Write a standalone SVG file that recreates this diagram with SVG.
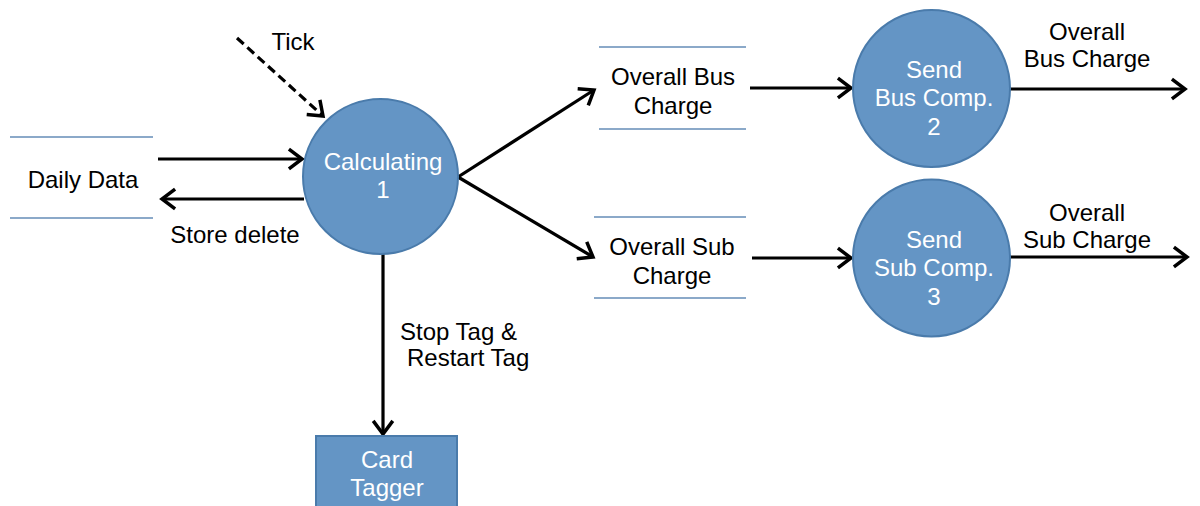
<svg xmlns="http://www.w3.org/2000/svg" width="1200" height="506" viewBox="0 0 1200 506">
<style>
.bg{fill:#ffffff}
.proc{fill:#6495c5;stroke:#4a7bab;stroke-width:2}
.store{stroke:#8ba9c9;stroke-width:2}
.conn{stroke:#000;stroke-width:3.2;fill:none}
.dash{stroke-dasharray:9 5}
text{font-family:"Liberation Sans",Arial,sans-serif;font-size:24px}
.w{fill:#ffffff;text-anchor:middle}
.k{fill:#000000}
.c{text-anchor:middle}
</style>
<defs>
<marker id="arr" markerUnits="userSpaceOnUse" markerWidth="20" markerHeight="24" viewBox="-14 -11 16 22" refX="0" refY="0" orient="auto">
<path d="M-12,-9 L0,0 L-12,9" fill="none" stroke="#000" stroke-width="3.2"/>
</marker>
</defs>
<rect class="bg" x="0" y="0" width="1200" height="506"/>
<g id="connectors">
<line class="conn dash" x1="237" y1="38" x2="323" y2="116" marker-end="url(#arr)"/>
<line class="conn" x1="158" y1="159" x2="302" y2="159" marker-end="url(#arr)"/>
<line class="conn" x1="304" y1="199" x2="162" y2="199" marker-end="url(#arr)"/>
<line class="conn" x1="458" y1="177" x2="594" y2="90" marker-end="url(#arr)"/>
<line class="conn" x1="458" y1="177" x2="593" y2="257" marker-end="url(#arr)"/>
<line class="conn" x1="750" y1="88" x2="851" y2="88" marker-end="url(#arr)"/>
<line class="conn" x1="752" y1="258" x2="851" y2="258" marker-end="url(#arr)"/>
<line class="conn" x1="1010" y1="89" x2="1185" y2="89" marker-end="url(#arr)"/>
<line class="conn" x1="1010" y1="257" x2="1187" y2="257" marker-end="url(#arr)"/>
<line class="conn" x1="383" y1="254" x2="383" y2="434" marker-end="url(#arr)"/>
<text class="k c" x="293" y="50">Tick</text>
<text class="k c" x="235" y="243">Store delete</text>
<text class="k c" x="1087" y="40">Overall</text>
<text class="k c" x="1087" y="67">Bus Charge</text>
<text class="k c" x="1087" y="221">Overall</text>
<text class="k c" x="1087" y="248">Sub Charge</text>
<text class="k" x="400" y="340">Stop Tag &amp;</text>
<text class="k" x="407" y="366">Restart Tag</text>
</g>
<g id="daily-data">
<line class="store" x1="10" y1="137" x2="153" y2="137"/>
<line class="store" x1="10" y1="218" x2="153" y2="218"/>
<text class="k c" x="83" y="188">Daily Data</text>
</g>
<g id="calculating">
<circle class="proc" cx="380.5" cy="176.5" r="77.5"/>
<text class="w" x="383" y="170">Calculating</text>
<text class="w" x="383" y="198">1</text>
</g>
<g id="overall-bus-charge">
<line class="store" x1="599" y1="47" x2="746" y2="47"/>
<line class="store" x1="599" y1="129" x2="746" y2="129"/>
<text class="k c" x="673" y="85">Overall Bus</text>
<text class="k c" x="673" y="114">Charge</text>
</g>
<g id="overall-sub-charge">
<line class="store" x1="594" y1="217" x2="746" y2="217"/>
<line class="store" x1="594" y1="298" x2="746" y2="298"/>
<text class="k c" x="672" y="255">Overall Sub</text>
<text class="k c" x="672" y="284">Charge</text>
</g>
<g id="send-bus">
<circle class="proc" cx="931.5" cy="88.5" r="78.5"/>
<text class="w" x="934" y="78">Send</text>
<text class="w" x="934" y="106">Bus Comp.</text>
<text class="w" x="934" y="135">2</text>
</g>
<g id="send-sub">
<circle class="proc" cx="931.5" cy="258" r="78.5"/>
<text class="w" x="934" y="248">Send</text>
<text class="w" x="934" y="276">Sub Comp.</text>
<text class="w" x="934" y="305">3</text>
</g>
<g id="card-tagger">
<rect class="proc" x="316" y="436" width="141" height="75"/>
<text class="w" x="387" y="468">Card</text>
<text class="w" x="387" y="496">Tagger</text>
</g>
</svg>
